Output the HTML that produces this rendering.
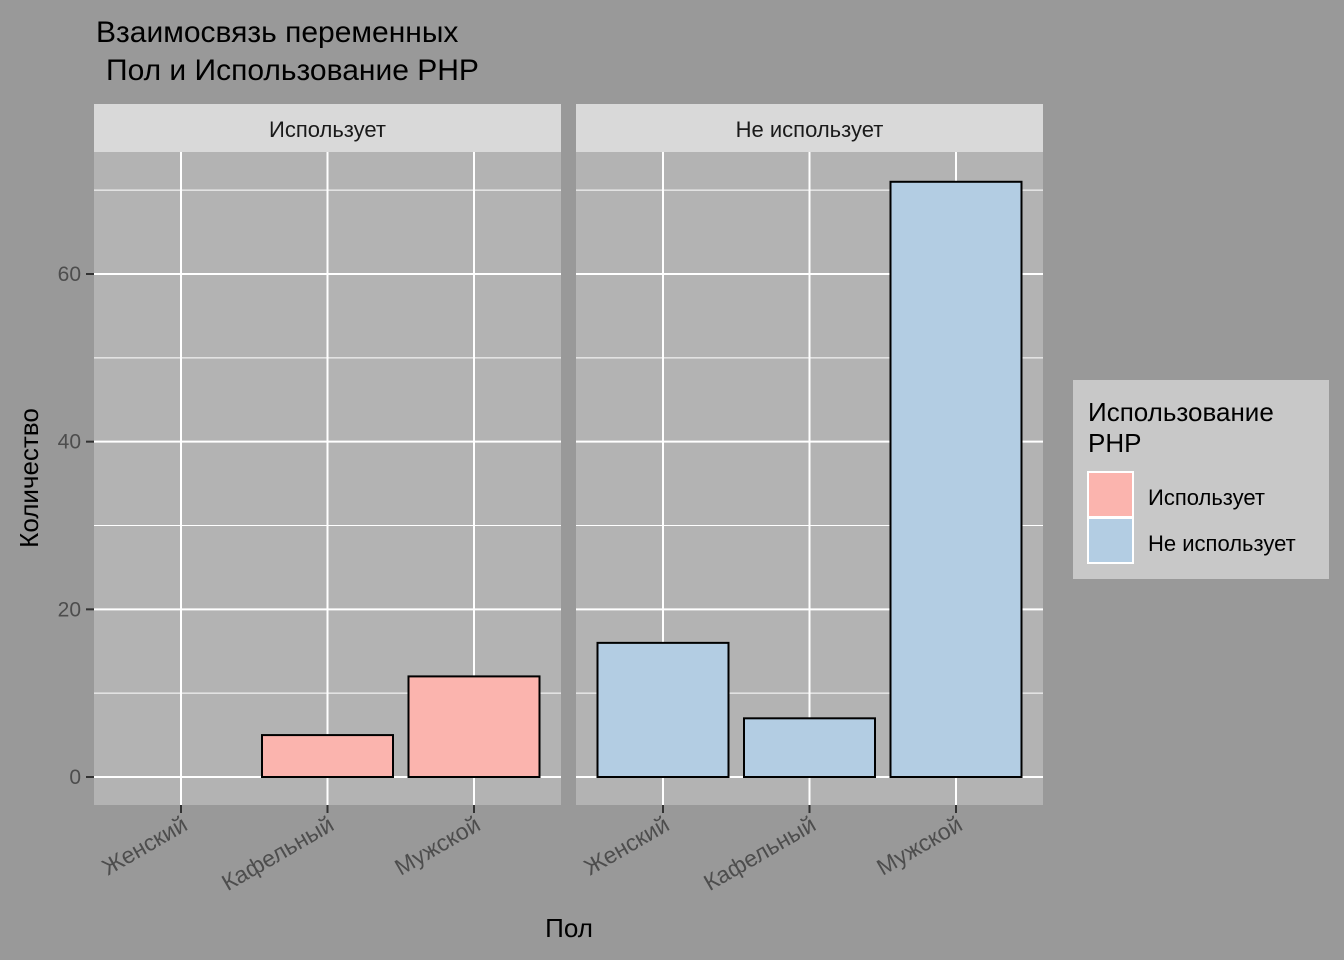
<!DOCTYPE html>
<html><head><meta charset="utf-8"><style>
body{margin:0;background:#999;}
svg{display:block;font-family:"Liberation Sans","DejaVu Sans",sans-serif;}
</style></head><body>
<svg id="c" width="1344" height="960" xmlns="http://www.w3.org/2000/svg">
<rect x="0" y="0" width="1344" height="960" fill="#999"/>
<text x="96" y="42" font-size="30" fill="#000">Взаимосвязь переменных</text>
<text x="106" y="80" font-size="30" fill="#000">Пол и Использование PHP</text>
<g id="plot"></g>
<text transform="translate(38,478) rotate(-90)" text-anchor="middle" font-size="26" fill="#000">Количество</text>
<text x="569" y="937" text-anchor="middle" font-size="26" fill="#000">Пол</text>
<g>
<rect x="1073" y="380" width="256" height="199" fill="#c8c8c8"/>
<text x="1088" y="421" font-size="26" fill="#000">Использование</text>
<text x="1088" y="452" font-size="26" fill="#000">PHP</text>
<rect x="1088" y="472" width="45" height="45" fill="#fbb4ae" stroke="#fff" stroke-width="2"/>
<text x="1148" y="505" font-size="22" fill="#000">Использует</text>
<rect x="1088" y="518" width="45" height="45" fill="#b3cde3" stroke="#fff" stroke-width="2"/>
<text x="1148" y="551" font-size="22" fill="#000">Не использует</text>
</g>
</svg>
<script>
const panels = ["Использует", "Не использует"];
const categories = ["Женский", "Кафельный", "Мужской"];
const usesValues = [0, 5, 12];
const notUsesValues = [16, 7, 71];
const yTicks = [0, 20, 40, 60];
const yMinor = [10, 30, 50, 70];
const colors = ["#fbb4ae", "#b3cde3"];
const series = [usesValues, notUsesValues];
const NS = "http://www.w3.org/2000/svg";
const g = document.getElementById("plot");
function mk(tag, attrs, parent) { const e = document.createElementNS(NS, tag); for (const k in attrs) e.setAttribute(k, attrs[k]); (parent || g).appendChild(e); return e; }
const plotTop = 152, plotBot = 805;
const y = v => 777 - v * (503 / 60);
const panelX = [94, 576], panelW = 467;
const step = 146.5;
const xc = (p, i) => panelX[p] + 87 + i * step;
panels.forEach((name, p) => {
  const pg = mk("g", {});
  
  
  const bg = mk("rect", {x: panelX[p], y: plotTop, width: panelW, height: plotBot - plotTop, fill: "#b3b3b3"}, pg);
  
  
  const st = mk("rect", {x: panelX[p], y: 104, width: panelW, height: 48, fill: "#d9d9d9"}, pg);
  
  
  const stt = mk("text", {x: panelX[p] + panelW / 2, y: 137, "text-anchor": "middle", "font-size": 22, fill: "#1a1a1a"}, pg);
  stt.textContent = name;
  
  
  yMinor.forEach(v => {
    const l = mk("line", {x1: panelX[p], x2: panelX[p] + panelW, y1: y(v), y2: y(v), stroke: "#fff", "stroke-width": 1}, pg);
    
    
  });
  yTicks.forEach(v => {
    const l = mk("line", {x1: panelX[p], x2: panelX[p] + panelW, y1: y(v), y2: y(v), stroke: "#fff", "stroke-width": 2}, pg);
    
    
  });
  categories.forEach((c, i) => {
    const l = mk("line", {x1: xc(p, i), x2: xc(p, i), y1: plotTop, y2: plotBot, stroke: "#fff", "stroke-width": 2}, pg);
    
    
  });
  categories.forEach((c, i) => {
    const v = series[p][i];
    if (v > 0) {
      const b = mk("rect", {x: xc(p, i) - 65.5, y: y(v), width: 131, height: y(0) - y(v), fill: colors[p], stroke: "#000", "stroke-width": 2}, pg);
      
      
    }
    const t = mk("line", {x1: xc(p, i), x2: xc(p, i), y1: plotBot, y2: plotBot + 8, stroke: "#333", "stroke-width": 2}, pg);
    
    
    const lb = mk("text", {x: xc(p, i) + 8, y: plotBot + 24, "text-anchor": "end", "font-size": 23, fill: "#4d4d4d", transform: `rotate(-30 ${xc(p, i) + 8} ${plotBot + 24})`}, pg);
    lb.textContent = c;
    
    
  });
});
yTicks.forEach(v => {
  const t = mk("line", {x1: 86, x2: 94, y1: y(v), y2: y(v), stroke: "#333", "stroke-width": 2});
  
  
  const lb = mk("text", {x: 81, y: y(v) + 7, "text-anchor": "end", "font-size": 21, fill: "#4d4d4d"});
  lb.textContent = v;
  
  
});
</script>
</body></html>
